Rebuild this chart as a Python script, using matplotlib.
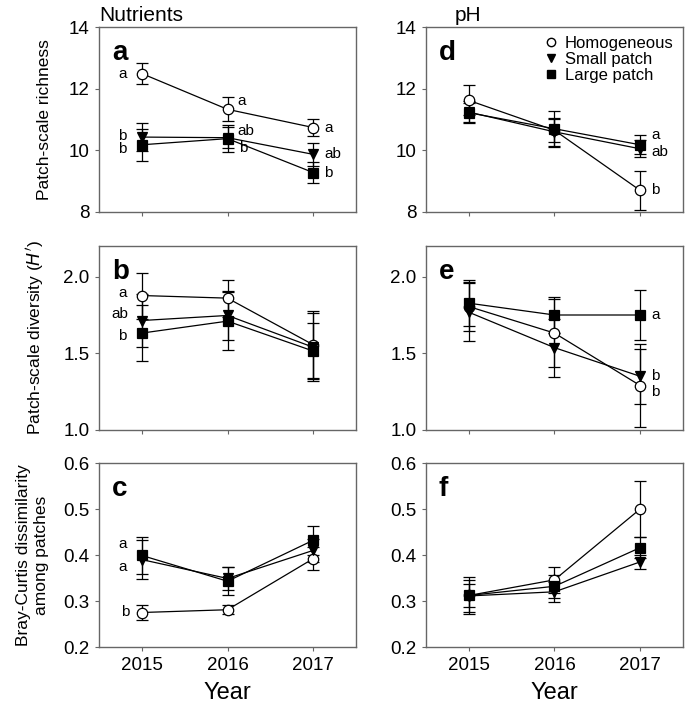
import matplotlib
matplotlib.use("Agg")
import matplotlib.pyplot as plt
from matplotlib.lines import Line2D

plt.rcParams["font.family"] = ["Liberation Sans", "DejaVu Sans"]

years = [2015, 2016, 2017]
groups = ["Homogeneous", "Small patch", "Large patch"]
markers = {"Homogeneous": "o", "Small patch": "v", "Large patch": "s"}
faces = {"Homogeneous": "white", "Small patch": "black", "Large patch": "black"}

# panel -> group -> (means, errors)
rich_nut = {
    "Homogeneous": ([12.49, 11.33, 10.74], [0.33, 0.39, 0.29]),
    "Small patch": ([10.43, 10.41, 9.87], [0.45, 0.35, 0.38]),
    "Large patch": ([10.18, 10.38, 9.28], [0.52, 0.45, 0.33]),
}
rich_ph = {
    "Homogeneous": ([11.62, 10.65, 8.70], [0.49, 0.38, 0.62]),
    "Small patch": ([11.24, 10.60, 10.05], [0.35, 0.45, 0.27]),
    "Large patch": ([11.22, 10.70, 10.18], [0.30, 0.58, 0.31]),
}
div_nut = {
    "Homogeneous": ([1.877, 1.86, 1.556], [0.15, 0.12, 0.22]),
    "Small patch": ([1.714, 1.747, 1.54], [0.17, 0.16, 0.22]),
    "Large patch": ([1.632, 1.71, 1.515], [0.18, 0.19, 0.18]),
}
div_ph = {
    "Homogeneous": ([1.805, 1.632, 1.29], [0.16, 0.22, 0.27]),
    "Small patch": ([1.768, 1.537, 1.35], [0.19, 0.19, 0.18]),
    "Large patch": ([1.827, 1.75, 1.75], [0.15, 0.116, 0.16]),
}
bc_nut = {
    "Homogeneous": ([0.275, 0.281, 0.392], [0.017, 0.010, 0.025]),
    "Small patch": ([0.390, 0.349, 0.410], [0.043, 0.024, 0.025]),
    "Large patch": ([0.399, 0.343, 0.432], [0.041, 0.030, 0.032]),
}
bc_ph = {
    "Homogeneous": ([0.312, 0.346, 0.500], [0.040, 0.029, 0.060]),
    "Small patch": ([0.311, 0.320, 0.385], [0.035, 0.022, 0.016]),
    "Large patch": ([0.312, 0.332, 0.416], [0.024, 0.025, 0.023]),
}

# significance letters: (group, year index, text, dx pt, dy pt)
letters = {
    "a": [("Homogeneous", 0, "a", -14, 0), ("Homogeneous", 1, "a", 10, 6),
          ("Homogeneous", 2, "a", 11, 0), ("Small patch", 0, "b", -14, 1),
          ("Large patch", 0, "b", -14, -3), ("Small patch", 1, "ab", 13, 5),
          ("Large patch", 1, "b", 11, -7), ("Small patch", 2, "ab", 14, 0),
          ("Large patch", 2, "b", 11, 0)],
    "d": [("Large patch", 2, "a", 11, 7), ("Small patch", 2, "ab", 14, -2),
          ("Homogeneous", 2, "b", 11, 0)],
    "b": [("Homogeneous", 0, "a", -14, 2), ("Small patch", 0, "ab", -16, 5),
          ("Large patch", 0, "b", -14, -2)],
    "e": [("Large patch", 2, "a", 11, 0), ("Small patch", 2, "b", 11, 0),
          ("Homogeneous", 2, "b", 11, -5)],
    "c": [("Large patch", 0, "a", -14, 8), ("Small patch", 0, "a", -14, -5),
          ("Homogeneous", 0, "b", -12, 0)],
    "f": [],
}

panels = [
    ("a", rich_nut, (8, 14), [8, 10, 12, 14], "%d"),
    ("d", rich_ph, (8, 14), [8, 10, 12, 14], "%d"),
    ("b", div_nut, (1.0, 2.2), [1.0, 1.5, 2.0], "%.1f"),
    ("e", div_ph, (1.0, 2.2), [1.0, 1.5, 2.0], "%.1f"),
    ("c", bc_nut, (0.2, 0.6), [0.2, 0.3, 0.4, 0.5, 0.6], "%.1f"),
    ("f", bc_ph, (0.2, 0.6), [0.2, 0.3, 0.4, 0.5, 0.6], "%.1f"),
]

W, H = 685, 709
fig = plt.figure(figsize=(W / 100, H / 100), dpi=100)
lefts = [99 / W, 426 / W]
width = 257 / W
rows = [(27, 212), (246, 430), (463, 647)]

spine_c = "#666666"
for i, (tag, data, ylim, yticks, fmt) in enumerate(panels):
    r, c = divmod(i, 2)
    top, bot = rows[r]
    ax = fig.add_axes([lefts[c], 1 - bot / H, width, (bot - top) / H])
    for g in groups:
        m, e = data[g]
        ax.errorbar(years, m, yerr=e, color="black", lw=0.9, elinewidth=0.9,
                    capsize=4, capthick=0.9, marker=markers[g],
                    ms=7.5 if g != "Large patch" else 6.5,
                    mfc=faces[g], mec="black", mew=0.9, zorder=3)
    for g, k, txt, dx, dy in letters[tag]:
        ax.annotate(txt, (years[k], data[g][0][k]), xytext=(dx, dy),
                    textcoords="offset points", ha="center", va="center",
                    fontsize=11)
    ax.set_xlim(2014.5, 2017.5)
    ax.set_ylim(*ylim)
    ax.set_yticks(yticks)
    ax.set_yticklabels([fmt % v for v in yticks])
    ax.set_xticks(years)
    if r == 2:
        ax.set_xticklabels([str(y) for y in years])
        ax.set_xlabel("Year", fontsize=17, labelpad=6)
    else:
        ax.set_xticklabels([])
    ax.tick_params(labelsize=13.5, direction="out", length=3, color=spine_c,
                   width=0.8, pad=4)
    for s in ax.spines.values():
        s.set_color(spine_c)
        s.set_linewidth(1.0)
    ax.text(0.05, 0.93, tag, transform=ax.transAxes, fontsize=20,
            fontweight="bold", ha="left", va="top")
    if i == 0:
        ax.set_title("Nutrients", fontsize=15, loc="left", pad=4, x=0.0)
        ax.set_ylabel("Patch-scale richness", fontsize=12.5, labelpad=12)
    if i == 1:
        ax.set_title("pH", fontsize=15, loc="left", pad=4, x=0.11)
        handles = [Line2D([], [], ls="none", marker=markers[g], ms=6,
                          mfc=faces[g], mec="black") for g in groups]
        ax.legend(handles, groups, loc="upper right", frameon=False,
                  fontsize=12, handletextpad=0.2, labelspacing=0.05,
                  borderaxespad=0.15, handlelength=1.3)
    if i == 2:
        ax.set_ylabel("Patch-scale diversity ($\\it{H'}$)", fontsize=12.5,
                      labelpad=12)
    if i == 4:
        ax.set_ylabel("Bray-Curtis dissimilarity\namong patches", fontsize=12.5,
                      labelpad=10, linespacing=1.3)

fig.savefig("out.png", dpi=100)
